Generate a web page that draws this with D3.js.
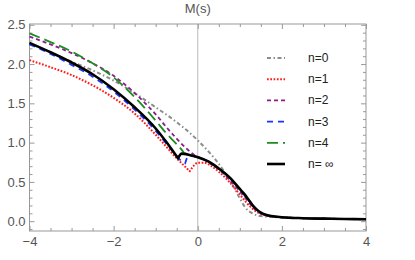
<!DOCTYPE html>
<html>
<head>
<meta charset="utf-8">
<script src="https://cdn.jsdelivr.net/npm/d3@7"></script>
<style>
  body { margin: 0; background: #fff; }
  svg { font-family: "Liberation Sans", Arial, sans-serif; }
</style>
</head>
<body>
<div id="chart"></div>
<script>
// values
const sN0 = [-4, -3.5, -3, -2.5, -2, -1.5, -1, -0.5, 0, 0.25, 0.5, 0.75, 0.88, 1.0, 1.12, 1.3, 1.5, 2, 2.5, 3, 3.5, 4];
const mN0 = [2.26, 2.15, 2.03, 1.92, 1.79, 1.63, 1.45, 1.26, 1.03, 0.89, 0.73, 0.53, 0.41, 0.29, 0.18, 0.10, 0.065, 0.048, 0.038, 0.032, 0.028, 0.025];

const sN1 = [-4, -3.5, -3, -2.5, -2, -1.5, -1, -0.75, -0.5, -0.35, -0.19, -0.07, 0, 0.15, 0.3, 0.5, 0.75, 1.0, 1.15, 1.3, 1.4, 1.6, 2, 2.5, 3, 3.5, 4];
const mN1 = [2.05, 1.96, 1.86, 1.73, 1.57, 1.37, 1.10, 0.95, 0.80, 0.72, 0.635, 0.72, 0.745, 0.745, 0.71, 0.63, 0.50, 0.34, 0.24, 0.16, 0.12, 0.075, 0.05, 0.038, 0.032, 0.028, 0.025];
const cuspN1 = [-0.19];

const sN2 = [-4, -3.5, -3, -2.5, -2, -1.5, -1, -0.75, -0.5, -0.3, -0.15, -0.05, 0.1, 0.25, 0.5, 0.75, 1.0, 1.2, 1.4, 1.6, 2, 2.5, 3, 3.5, 4];
const mN2 = [2.35, 2.25, 2.14, 2.01, 1.85, 1.63, 1.36, 1.20, 1.05, 0.94, 0.87, 0.83, 0.80, 0.75, 0.66, 0.53, 0.38, 0.25, 0.13, 0.08, 0.05, 0.038, 0.032, 0.028, 0.025];
const cuspN2 = [-0.05];

const sN3 = [-4, -3.5, -3, -2.5, -2, -1.5, -1, -0.75, -0.5, -0.4, -0.3, -0.22, -0.1, 0, 0.25, 0.5, 0.75, 1.0, 1.2, 1.4, 1.6, 2, 2.5, 3, 3.5, 4];
const mN3 = [2.25, 2.13, 1.99, 1.84, 1.65, 1.42, 1.15, 0.99, 0.83, 0.77, 0.735, 0.83, 0.83, 0.815, 0.76, 0.67, 0.555, 0.405, 0.275, 0.145, 0.085, 0.05, 0.038, 0.032, 0.028, 0.025];
const cuspN3 = [-0.3];

const sN4 = [-4, -3.5, -3, -2.5, -2, -1.5, -1, -0.75, -0.5, -0.4, -0.33, -0.2, -0.1, 0, 0.25, 0.5, 0.75, 1.0, 1.2, 1.4, 1.6, 2, 2.5, 3, 3.5, 4];
const mN4 = [2.39, 2.28, 2.16, 2.01, 1.83, 1.58, 1.28, 1.12, 0.98, 0.92, 0.87, 0.85, 0.83, 0.815, 0.76, 0.67, 0.555, 0.405, 0.275, 0.145, 0.085, 0.05, 0.038, 0.032, 0.028, 0.025];
const cuspN4 = [-0.33];

const sInf = [-4, -3.5, -3, -2.5, -2, -1.5, -1, -0.75, -0.47, -0.38, -0.25, -0.1, 0, 0.25, 0.5, 0.75, 1.0, 1.1, 1.2, 1.3, 1.4, 1.5, 1.6, 1.75, 2, 2.5, 3, 3.5, 4];
const mInf = [2.27, 2.15, 2.02, 1.87, 1.68, 1.45, 1.18, 1.01, 0.80, 0.86, 0.85, 0.83, 0.815, 0.76, 0.67, 0.56, 0.41, 0.35, 0.28, 0.205, 0.15, 0.11, 0.085, 0.065, 0.05, 0.038, 0.032, 0.028, 0.025];
const cuspInf = [-0.47];

const legendLabels = ["n=0", "n=1", "n=2", "n=3", "n=4", "n= \u221e"];
const xMajor = [-4, -2, 0, 2, 4];
const yMajor = [0, 0.5, 1, 1.5, 2, 2.5];

const W = 415, H = 260;
const pLeft = 29.5, pRight = 366, pTop = 24, pBottom = 231;

const x = d3.scaleLinear().domain([-4, 4]).range([pLeft, pRight]);
const y = d3.scaleLinear().domain([-0.125, 2.51]).range([pBottom, pTop]);

const svg = d3.select("#chart").append("svg")
  .attr("width", W).attr("height", H);

// title
svg.append("text")
  .attr("x", (pLeft + pRight) / 2).attr("y", 13)
  .attr("text-anchor", "middle")
  .attr("font-size", 13).attr("fill", "#555")
  .text("M(s)");

// vertical axis line at s = 0
svg.append("line")
  .attr("x1", x(0)).attr("x2", x(0))
  .attr("y1", pTop).attr("y2", pBottom)
  .attr("stroke", "#bbb").attr("stroke-width", 1);

// minor tick values
const xMinor = d3.range(-4, 4.001, 0.5).filter(v => Math.abs(v % 2) > 1e-6);
const yMinor = d3.range(-0.1, 2.51, 0.1).map(v => +v.toFixed(2)).filter(v => Math.abs(Math.round(v * 10) % 5) > 0);

function styleAxis(g) {
  g.select(".domain").remove();
  g.selectAll(".tick line").attr("stroke", "#999");
  g.selectAll(".tick text").attr("fill", "#555").attr("font-size", 13)
    .attr("font-family", "Liberation Sans, Arial, sans-serif");
}

// bottom / left with labels
svg.append("g").attr("transform", `translate(0,${pBottom})`)
  .call(d3.axisBottom(x).tickValues(xMajor).tickSize(-5).tickPadding(6).tickFormat(d3.format("d")))
  .call(styleAxis);
svg.append("g").attr("transform", `translate(0,${pBottom})`)
  .call(d3.axisBottom(x).tickValues(xMinor).tickSize(-3).tickFormat(""))
  .call(styleAxis);
svg.append("g").attr("transform", `translate(${pLeft},0)`)
  .call(d3.axisLeft(y).tickValues(yMajor).tickSize(-5).tickPadding(4).tickFormat(d3.format(".1f")))
  .call(styleAxis);
svg.append("g").attr("transform", `translate(${pLeft},0)`)
  .call(d3.axisLeft(y).tickValues(yMinor).tickSize(-3).tickFormat(""))
  .call(styleAxis);

// top / right without labels
svg.append("g").attr("transform", `translate(0,${pTop})`)
  .call(d3.axisTop(x).tickValues(xMajor).tickSize(-5).tickFormat(""))
  .call(styleAxis);
svg.append("g").attr("transform", `translate(0,${pTop})`)
  .call(d3.axisTop(x).tickValues(xMinor).tickSize(-3).tickFormat(""))
  .call(styleAxis);
svg.append("g").attr("transform", `translate(${pRight},0)`)
  .call(d3.axisRight(y).tickValues(yMajor).tickSize(-5).tickFormat(""))
  .call(styleAxis);
svg.append("g").attr("transform", `translate(${pRight},0)`)
  .call(d3.axisRight(y).tickValues(yMinor).tickSize(-3).tickFormat(""))
  .call(styleAxis);

// frame
svg.append("rect")
  .attr("x", pLeft).attr("y", pTop)
  .attr("width", pRight - pLeft).attr("height", pBottom - pTop)
  .attr("fill", "none").attr("stroke", "#999").attr("stroke-width", 1);

const line = d3.line()
  .x(d => x(d[0])).y(d => y(d[1]))
  .curve(d3.curveMonotoneX);

// smooth curve that keeps a sharp corner at each cusp
function cuspPath(xs, ys, cusps) {
  const pts = xs.map((s, i) => [s, ys[i]]);
  const segs = [];
  let cur = [];
  pts.forEach(p => {
    cur.push(p);
    if (cusps.includes(p[0])) { segs.push(cur); cur = [p]; }
  });
  if (cur.length > 1) segs.push(cur);
  let d = "";
  segs.forEach((seg, k) => {
    let p = line(seg);
    if (k > 0) p = "L" + p.slice(1);
    d += p;
  });
  return d;
}

const series = [
  { s: sN0, m: mN0, c: [],      color: "#8c8c8c", w: 2, dash: "4,2.5,1.5,2.5" },
  { s: sN1, m: mN1, c: cuspN1,  color: "#ff1a1a", w: 2, dash: "1.7,1.6" },
  { s: sN2, m: mN2, c: cuspN2,  color: "#8b1c8b", w: 1.8, dash: "4,3" },
  { s: sN3, m: mN3, c: cuspN3,  color: "#1a33ff", w: 1.8, dash: "6,5" },
  { s: sN4, m: mN4, c: cuspN4,  color: "#1e8c1e", w: 1.8, dash: "11,5" },
  { s: sInf, m: mInf, c: cuspInf, color: "#000", w: 2.6, dash: null }
];

const plot = svg.append("g");
series.forEach(sr => {
  plot.append("path")
    .attr("d", cuspPath(sr.s, sr.m, sr.c))
    .attr("fill", "none")
    .attr("stroke", sr.color)
    .attr("stroke-width", sr.w)
    .attr("stroke-dasharray", sr.dash)
    .attr("stroke-linejoin", "round");
});

// legend
const legend = svg.append("g");
series.forEach((sr, i) => {
  const ly = 58 + i * 21.2;
  legend.append("line")
    .attr("x1", 267).attr("x2", 285)
    .attr("y1", ly).attr("y2", ly)
    .attr("stroke", sr.color)
    .attr("stroke-width", sr.w)
    .attr("stroke-dasharray", sr.dash);
  legend.append("text")
    .attr("x", 308).attr("y", ly + 4)
    .attr("font-size", 12).attr("fill", "#222")
    .text(legendLabels[i]);
});
</script>
</body>
</html>
